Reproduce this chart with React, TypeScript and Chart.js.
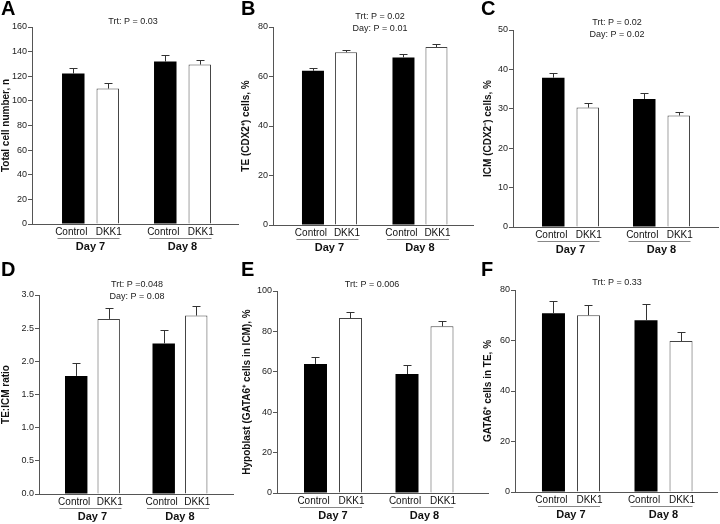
import React, { useEffect, useRef } from "react";
import { Chart, registerables } from "chart.js";

Chart.register(...registerables);

// ---------- data ----------
const DAYS = ["Day 7", "Day 8"];
const TREATMENTS = ["Control", "DKK1"];

// A: total cell number
const TOTAL_CONTROL = [122.2, 131.9];
const TOTAL_CONTROL_SEM = [4.9, 5.4];
const TOTAL_DKK1 = [110.0, 129.5];
const TOTAL_DKK1_SEM = [4.6, 3.5];
const TOTAL_NOTES = ["Trt: P = 0.03"];

// B: TE (CDX2+) cells, %
const TE_CONTROL = [62.3, 67.7];
const TE_CONTROL_SEM = [1.3, 1.2];
const TE_DKK1 = [69.8, 71.9];
const TE_DKK1_SEM = [1.1, 1.2];
const TE_NOTES = ["Trt: P = 0.02", "Day: P = 0.01"];

// C: ICM (CDX2-) cells, %
const ICM_CONTROL = [37.9, 32.5];
const ICM_CONTROL_SEM = [1.3, 1.4];
const ICM_DKK1 = [30.3, 28.3];
const ICM_DKK1_SEM = [1.1, 1.0];
const ICM_NOTES = ["Trt: P = 0.02", "Day: P = 0.02"];

// D: TE:ICM ratio
const RATIO_CONTROL = [1.78, 2.27];
const RATIO_CONTROL_SEM = [0.2, 0.2];
const RATIO_DKK1 = [2.64, 2.69];
const RATIO_DKK1_SEM = [0.17, 0.15];
const RATIO_NOTES = ["Trt: P =0.048", "Day: P = 0.08"];

// E: Hypoblast (GATA6+ cells in ICM), %
const HYPO_CONTROL = [63.9, 58.9];
const HYPO_CONTROL_SEM = [3.6, 4.6];
const HYPO_DKK1 = [86.6, 82.5];
const HYPO_DKK1_SEM = [3.2, 2.8];
const HYPO_NOTES = ["Trt: P = 0.006"];

// F: GATA6+ cells in TE, %
const GTE_CONTROL = [70.8, 68.0];
const GTE_CONTROL_SEM = [4.8, 6.3];
const GTE_DKK1 = [70.0, 59.8];
const GTE_DKK1_SEM = [3.9, 3.4];
const GTE_NOTES = ["Trt: P = 0.33"];

// ---------- styling / layout ----------
const FONT = '"Liberation Sans", Arial, Helvetica, sans-serif';
const AXIS = "#555";
const TEXT = "#111";

type Panel = {
  letter: string;
  yTitle: string;
  yMax: number;
  yStep: number;
  decimals: number;
  control: number[];
  controlSem: number[];
  dkk1: number[];
  dkk1Sem: number[];
  notes: string[];
  box: { left: number; top: number; width: number; height: number };
  area: { left: number; top: number; right: number; bottom: number };
  xMin: number;
  xMax: number;
  catPct: number;
  barPct: number;
  noteX: number;
  noteY: number;
  titlePad: number;
  letterY: number;
};

const PANELS: Panel[] = [
  {
    letter: "A", yTitle: "Total cell number, n", yMax: 160, yStep: 20, decimals: 0,
    control: TOTAL_CONTROL, controlSem: TOTAL_CONTROL_SEM, dkk1: TOTAL_DKK1, dkk1Sem: TOTAL_DKK1_SEM,
    notes: TOTAL_NOTES,
    box: { left: 0, top: 0, width: 240, height: 260 },
    area: { left: 32, top: 27, right: 238, bottom: 224 },
    xMin: -0.636, xMax: 1.603, catPct: 0.75, barPct: 0.652,
    noteX: 133, noteY: 22, titlePad: 0, letterY: 15,
  },
  {
    letter: "B", yTitle: "TE (CDX2\u207A) cells, %", yMax: 80, yStep: 20, decimals: 0,
    control: TE_CONTROL, controlSem: TE_CONTROL_SEM, dkk1: TE_DKK1, dkk1Sem: TE_DKK1_SEM,
    notes: TE_NOTES,
    box: { left: 240, top: 0, width: 240, height: 260 },
    area: { left: 33, top: 27, right: 233, bottom: 225 },
    xMin: -0.624, xMax: 1.586, catPct: 0.729, barPct: 0.667,
    noteX: 140, noteY: 17, titlePad: 0, letterY: 15,
  },
  {
    letter: "C", yTitle: "ICM (CDX2\u207B) cells, %", yMax: 50, yStep: 10, decimals: 0,
    control: ICM_CONTROL, controlSem: ICM_CONTROL_SEM, dkk1: ICM_DKK1, dkk1Sem: ICM_DKK1_SEM,
    notes: ICM_NOTES,
    box: { left: 480, top: 0, width: 240, height: 260 },
    area: { left: 33, top: 30, right: 238, bottom: 227 },
    xMin: -0.632, xMax: 1.621, catPct: 0.758, barPct: 0.652,
    noteX: 137, noteY: 23, titlePad: 2, letterY: 15,
  },
  {
    letter: "D", yTitle: "TE:ICM ratio", yMax: 3, yStep: 0.5, decimals: 1,
    control: RATIO_CONTROL, controlSem: RATIO_CONTROL_SEM, dkk1: RATIO_DKK1, dkk1Sem: RATIO_DKK1_SEM,
    notes: RATIO_NOTES,
    box: { left: 0, top: 260, width: 240, height: 264 },
    area: { left: 39, top: 35, right: 233, bottom: 234 },
    xMin: -0.611, xMax: 1.606, catPct: 0.743, barPct: 0.69,
    noteX: 137, noteY: 25, titlePad: 0, letterY: 16,
  },
  {
    letter: "E", yTitle: "Hypoblast (GATA6\u207A cells in ICM), %", yMax: 100, yStep: 20, decimals: 0,
    control: HYPO_CONTROL, controlSem: HYPO_CONTROL_SEM, dkk1: HYPO_DKK1, dkk1Sem: HYPO_DKK1_SEM,
    notes: HYPO_NOTES,
    box: { left: 240, top: 260, width: 250, height: 264 },
    area: { left: 37, top: 31, right: 248, bottom: 233 },
    xMin: -0.612, xMax: 1.694, catPct: 0.765, barPct: 0.657,
    noteX: 132, noteY: 25, titlePad: 1, letterY: 16,
  },
  {
    letter: "F", yTitle: "GATA6\u207A cells in TE, %", yMax: 80, yStep: 20, decimals: 0,
    control: GTE_CONTROL, controlSem: GTE_CONTROL_SEM, dkk1: GTE_DKK1, dkk1Sem: GTE_DKK1_SEM,
    notes: GTE_NOTES,
    box: { left: 480, top: 260, width: 240, height: 264 },
    area: { left: 35, top: 30, right: 237, bottom: 232 },
    xMin: -0.605, xMax: 1.578, catPct: 0.757, barPct: 0.657,
    noteX: 137, noteY: 23, titlePad: 2, letterY: 16,
  },
];

function makeAnnotPlugin(p: Panel) {
  return {
    id: "annot" + p.letter,
    afterDatasetsDraw(chart: any) {
      const ctx = chart.ctx as CanvasRenderingContext2D;
      const yScale = chart.scales.y;
      const bottom = chart.chartArea.bottom;
      const sems = [p.controlSem, p.dkk1Sem];
      ctx.save();

      // error bars (upper only)
      ctx.strokeStyle = "#333";
      ctx.lineWidth = 1;
      chart.data.datasets.forEach((ds: any, di: number) => {
        const meta = chart.getDatasetMeta(di);
        meta.data.forEach((bar: any, i: number) => {
          const v = ds.data[i].y;
          const e = sems[di][i];
          const x = Math.round(bar.x) + 0.5;
          const yTop = yScale.getPixelForValue(v);
          const yErr = Math.round(yScale.getPixelForValue(v + e)) + 0.5;
          ctx.beginPath();
          ctx.moveTo(x, yTop);
          ctx.lineTo(x, yErr);
          ctx.moveTo(x - 4, yErr);
          ctx.lineTo(x + 4, yErr);
          ctx.stroke();
        });
      });

      // treatment labels, underline, day labels
      const m0 = chart.getDatasetMeta(0);
      const m1 = chart.getDatasetMeta(1);
      ctx.fillStyle = TEXT;
      ctx.textAlign = "center";
      ctx.textBaseline = "middle";
      DAYS.forEach((day, i) => {
        const xc = m0.data[i].x;
        const xd = m1.data[i].x;
        ctx.font = `10px ${FONT}`;
        ctx.fillText(TREATMENTS[0], xc - 2, bottom + 8);
        ctx.fillText(TREATMENTS[1], xd + 1, bottom + 8);
        const cx = (xc + xd) / 2;
        ctx.strokeStyle = "#888";
        ctx.beginPath();
        ctx.moveTo(cx - 33, Math.round(bottom + 14) + 0.5);
        ctx.lineTo(cx + 29, Math.round(bottom + 14) + 0.5);
        ctx.stroke();
        ctx.font = `bold 11px ${FONT}`;
        ctx.fillText(day, cx, bottom + 23);
      });

      // p-value notes
      ctx.font = `9px ${FONT}`;
      ctx.fillStyle = "#222";
      p.notes.forEach((n, k) => {
        ctx.fillText(n, p.noteX, p.noteY + k * 11.5);
      });

      // panel letter
      ctx.font = `bold 20px ${FONT}`;
      ctx.fillStyle = "#000";
      ctx.textAlign = "left";
      ctx.textBaseline = "alphabetic";
      ctx.fillText(p.letter, 1, p.letterY);
      ctx.restore();
    },
  };
}

function PanelChart({ p }: { p: Panel }) {
  const ref = useRef<HTMLCanvasElement | null>(null);
  useEffect(() => {
    if (!ref.current) return;
    const chart = new Chart(ref.current, {
      type: "bar",
      data: {
        datasets: [
          {
            label: TREATMENTS[0],
            data: p.control.map((v, i) => ({ x: i, y: v })),
            backgroundColor: "#000",
            borderColor: "#000",
            borderWidth: 0,
          },
          {
            label: TREATMENTS[1],
            data: p.dkk1.map((v, i) => ({ x: i, y: v })),
            backgroundColor: "#fff",
            borderColor: "#444",
            borderWidth: 1,
          },
        ],
      } as any,
      options: {
        responsive: false,
        animation: false,
        devicePixelRatio: 1,
        layout: {
          padding: { left: 0, top: p.area.top, right: p.box.width - p.area.right, bottom: 0 },
        },
        datasets: { bar: { categoryPercentage: p.catPct, barPercentage: p.barPct } },
        plugins: {
          legend: { display: false },
          tooltip: { enabled: false },
          title: { display: false },
        },
        scales: {
          x: {
            type: "linear",
            min: p.xMin,
            max: p.xMax,
            offset: false,
            grid: { display: false, drawTicks: false },
            border: { display: true, color: AXIS, width: 1 },
            ticks: { display: false },
            afterBuildTicks: (s: any) => {
              s.ticks = DAYS.map((_, i) => ({ value: i }));
            },
            afterFit: (s: any) => {
              s.height = p.box.height - p.area.bottom;
            },
          },
          y: {
            min: 0,
            max: p.yMax,
            ticks: {
              stepSize: p.yStep,
              font: { family: FONT, size: 9 },
              color: "#222",
              padding: 1,
              callback: (v: any) => Number(v).toFixed(p.decimals),
            },
            grid: { drawOnChartArea: false, drawTicks: true, tickLength: 4, color: AXIS },
            border: { display: true, color: AXIS, width: 1 },
            title: {
              display: true,
              text: p.yTitle,
              font: { family: FONT, size: 10, weight: "bold" },
              color: TEXT,
              padding: { top: p.titlePad, bottom: 0 },
            },
            afterFit: (s: any) => {
              s.width = p.area.left;
            },
          },
        },
      } as any,
      plugins: [makeAnnotPlugin(p)],
    });
    return () => chart.destroy();
  }, [p]);
  return (
    <canvas
      ref={ref}
      width={p.box.width}
      height={p.box.height}
      style={{
        position: "absolute",
        left: p.box.left,
        top: p.box.top,
        width: p.box.width,
        height: p.box.height,
        display: "block",
      }}
    />
  );
}

export default function App() {
  return (
    <div
      style={{
        position: "absolute",
        left: 0,
        top: 0,
        width: 720,
        height: 524,
        overflow: "hidden",
        background: "#fff",
      }}
    >
      {PANELS.map((p) => (
        <PanelChart key={p.letter} p={p} />
      ))}
    </div>
  );
}
